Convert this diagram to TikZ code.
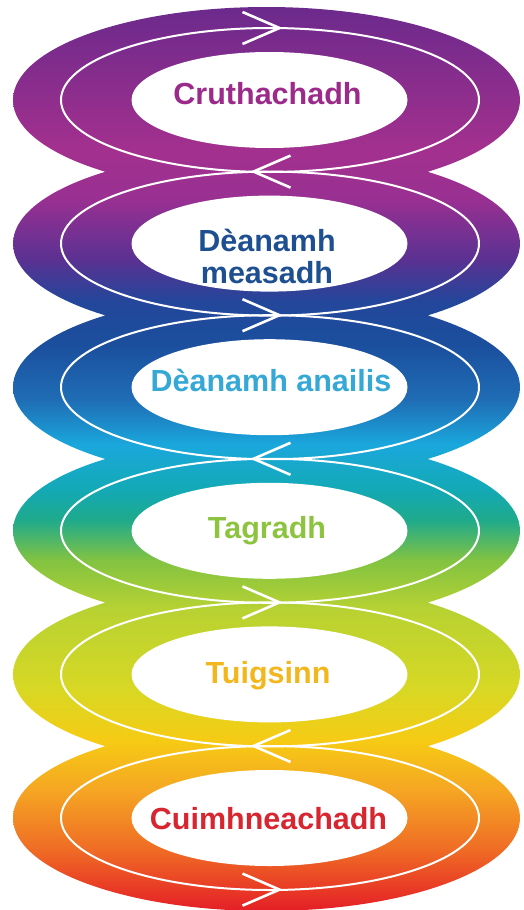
\documentclass[tikz,border=0pt]{standalone}
\usepackage{fontspec}
\setmainfont{Liberation Sans}
\usepackage{xcolor}
\usetikzlibrary{calc}

% colours of the band, top to bottom
\definecolor{cPurple}{HTML}{6B2A8C}
\definecolor{cMagenta}{HTML}{A3308E}
\definecolor{cMagViolet}{HTML}{983092}
\definecolor{cViolet}{HTML}{5A3192}
\definecolor{cIndigo}{HTML}{24469A}
\definecolor{cBlue}{HTML}{1B4F9E}
\definecolor{cMidBlue}{HTML}{1F6DB5}
\definecolor{cCyan}{HTML}{1AA8DC}
\definecolor{cTealBlue}{HTML}{13A9B5}
\definecolor{cTeal}{HTML}{1FAA8C}
\definecolor{cGreen}{HTML}{82C341}
\definecolor{cLime}{HTML}{B8D232}
\definecolor{cLemon}{HTML}{D8D824}
\definecolor{cGold}{HTML}{F6CB14}
\definecolor{cOrange}{HTML}{F5A623}
\definecolor{cDeepOrange}{HTML}{EF6B25}
\definecolor{cRed}{HTML}{E41E26}

% text colours
\definecolor{tPurple}{HTML}{9C2A8A}
\definecolor{tNavy}{HTML}{1D4F91}
\definecolor{tSky}{HTML}{35A8D6}
\definecolor{tGreen}{HTML}{8DC43F}
\definecolor{tGold}{HTML}{F2B71D}
\definecolor{tRed}{HTML}{D7262F}

\pgfdeclareverticalshading{rainbow}{100bp}{
  color(0bp)=(cRed); color(25bp)=(cRed);
  color(28.37bp)=(cDeepOrange); color(31.69bp)=(cOrange);
  color(34.46bp)=(cGold); color(37.22bp)=(cLemon);
  color(41.65bp)=(cLime); color(44.41bp)=(cGreen);
  color(46.63bp)=(cTeal); color(48.29bp)=(cTealBlue);
  color(50.77bp)=(cCyan); color(53.26bp)=(cMidBlue);
  color(56.31bp)=(cBlue); color(58.79bp)=(cIndigo);
  color(61.01bp)=(cViolet); color(64.33bp)=(cMagViolet);
  color(67.09bp)=(cMagenta); color(75bp)=(cPurple);
  color(100bp)=(cPurple)}

\begin{document}
\begin{tikzpicture}[x=1pt,y=-1pt,
  loop/.style={white,line width=2pt},
  flowtip/.style={white,line width=2.6pt},
  stage/.style={inner sep=0pt,text depth=0pt,anchor=south,align=center,
    font=\fontsize{30.5}{31.6}\selectfont\bfseries}]
  \useasboundingbox (0,0) rectangle (523,910);

  % coloured band
  \shade[shading=rainbow]
    \foreach \i in {0,...,5} {(266.5,{100+143.6*\i}) ellipse [x radius=253.5,y radius=93]};

  % holes and loops
  \foreach \i in {0,...,5} {
    \fill[white] (269.5,{100+143.6*\i}) ellipse [x radius=138,y radius=48];
    \draw[loop] (270,{100+143.6*\i}) ellipse [x radius=209,y radius=72];
  }

  % arrow heads on the loops
  \foreach \k in {0,...,6} {
    \pgfmathsetmacro\ya{28+143.6*\k}
    \pgfmathsetmacro\dir{(-1)^\k}
    \pgfmathsetmacro\xm{266.5-5.5*\dir}
    \draw[flowtip] ({\xm-18.5*\dir},{\ya-16}) -- ({\xm+18.5*\dir},\ya) -- ({\xm-18.5*\dir},{\ya+16});
  }

  % stages
  \node[stage,text=tPurple] (cruth) at (267.5,105) {Cruthachadh};
  \node[stage,text=tNavy] (measadh) at (267,283.3) {Dèanamh\\measadh};
  \node[stage,text=tSky] (anailis) at (271,391.7) {Dèanamh anailis};
  \node[stage,text=tGreen] (tagradh) at (267,538.3) {Tagradh};
  \node[stage,text=tGold] (tuigse) at (268,683.3) {Tuigsinn};
  \node[stage,text=tRed] (cuimhne) at (268.5,830) {Cuimhneachadh};
\end{tikzpicture}
\end{document}
